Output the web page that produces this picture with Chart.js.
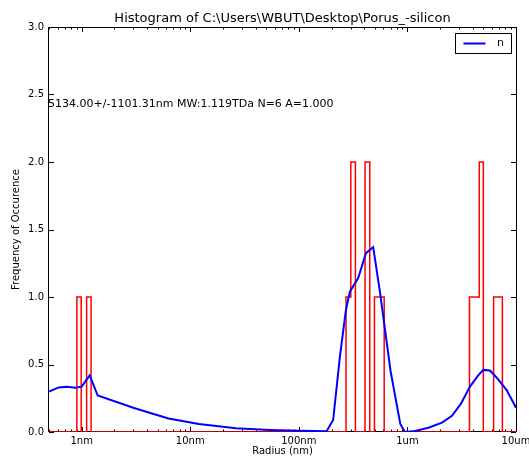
<!DOCTYPE html>
<html>
<head>
<meta charset="utf-8">
<script src="https://cdn.jsdelivr.net/npm/chart.js@4/dist/chart.umd.min.js"></script>
<style>
  html, body { margin: 0; padding: 0; background: #fff; }
</style>
</head>
<body>
<canvas id="histChart" width="529" height="456"></canvas>
<script>
// Histogram (red step outline): bin edges in nm and the count in each bin
const binEdges = [0.5, 0.903, 0.99, 1.11, 1.22, 272, 301, 332, 407, 450, 497, 611, 3730, 4590, 5000, 6220, 7490, 10000];
const binCounts = [0, 1, 0, 1, 0, 1, 2, 0, 2, 0, 1, 0, 1, 2, 0, 1, 0];

// Fitted curve "n" (blue)
const curveRadius = [0.5, 0.614, 0.727, 0.88, 1.0, 1.185, 1.404, 3.08, 6.3, 12.0, 26.3, 54, 102, 180,
  207, 239, 271, 295, 352, 415, 484, 560, 700, 860, 948, 1173, 1562, 2080, 2571, 3112, 3767, 4490,
  4997, 5758, 6680, 8207, 10000];
const curveValue = [0.30, 0.33, 0.335, 0.327, 0.336, 0.42, 0.27, 0.176, 0.10, 0.059, 0.027, 0.015, 0.009, 0.005,
  0.089, 0.56, 0.90, 1.04, 1.14, 1.325, 1.37, 1.03, 0.45, 0.06, 0.0, 0.007, 0.032, 0.069, 0.12, 0.21, 0.336, 0.42,
  0.46, 0.455, 0.40, 0.31, 0.18];

// Axes
const xMajorTicks = [1, 10, 100, 1000, 10000];
const xTickLabels = ["1nm", "10nm", "100nm", "1um", "10um"];
const yTicks = [0, 0.5, 1, 1.5, 2, 2.5, 3];

const titleText = "Histogram of C:\\Users\\WBUT\\Desktop\\Porus_-silicon";
const statsText = "5134.00+/-1101.31nm MW:1.119TDa N=6 A=1.000";
const legendLabel = "n";

// minor ticks on the log axis: 2..9 of each decade
const xMinorTicks = [];
[0.1, 1, 10, 100, 1000].forEach(d => {
  for (let k = 2; k <= 9; k++) {
    const v = d * k;
    if (v >= 0.5 && v <= 10000) xMinorTicks.push(v);
  }
});

// step outline from the bins
const histPoints = [];
binCounts.forEach((c, i) => {
  histPoints.push({ x: binEdges[i], y: c }, { x: binEdges[i + 1], y: c });
});
const curvePoints = curveRadius.map((r, i) => ({ x: r, y: curveValue[i] }));

const fontFamily = "'DejaVu Sans', sans-serif";

// frame with inward ticks on all four sides
const framePlugin = {
  id: "frame",
  beforeDatasetsDraw(chart) {
    const { ctx, chartArea: a, scales: { x, y } } = chart;
    ctx.save();
    ctx.strokeStyle = "#000";
    ctx.lineWidth = 1;
    ctx.beginPath();
    const vTick = (v, len) => {
      const px = Math.round(x.getPixelForValue(v)) + 0.5;
      ctx.moveTo(px, a.bottom); ctx.lineTo(px, a.bottom - len);
      ctx.moveTo(px, a.top); ctx.lineTo(px, a.top + len);
    };
    xMajorTicks.forEach(v => vTick(v, 5));
    xMinorTicks.forEach(v => vTick(v, 2.5));
    yTicks.forEach(v => {
      const py = Math.round(y.getPixelForValue(v)) + 0.5;
      ctx.moveTo(a.left, py); ctx.lineTo(a.left + 5, py);
      ctx.moveTo(a.right, py); ctx.lineTo(a.right - 5, py);
    });
    ctx.stroke();
    ctx.strokeRect(Math.round(a.left) - 0.5, Math.round(a.top) + 0.5,
      Math.round(a.right - a.left) + 1, Math.round(a.bottom - a.top) - 1);
    ctx.restore();
  },
  afterDraw(chart) {
    const { ctx, chartArea: a, scales: { x, y } } = chart;
    ctx.save();
    ctx.fillStyle = "#000";
    // title
    ctx.font = "13px " + fontFamily;
    ctx.textAlign = "center";
    ctx.textBaseline = "alphabetic";
    ctx.fillText(titleText, (a.left + a.right) / 2, 22);
    // stats text, anchored at data coordinates
    ctx.font = "11px " + fontFamily;
    ctx.textAlign = "left";
    ctx.textBaseline = "middle";
    ctx.fillText(statsText, x.getPixelForValue(0.5) - 1, y.getPixelForValue(2.43));
    // legend
    const bw = 56, bh = 20;
    const bx = Math.round(a.right - 5 - bw) + 0.5, by = Math.round(a.top + 6) + 0.5;
    ctx.fillStyle = "#fff";
    ctx.fillRect(bx, by, bw, bh);
    ctx.strokeStyle = "#000";
    ctx.lineWidth = 1;
    ctx.strokeRect(bx, by, bw, bh);
    ctx.strokeStyle = "#0000ff";
    ctx.lineWidth = 2;
    ctx.beginPath();
    ctx.moveTo(bx + 8, by + bh / 2);
    ctx.lineTo(bx + 30, by + bh / 2);
    ctx.stroke();
    ctx.fillStyle = "#000";
    ctx.font = "11px " + fontFamily;
    ctx.textAlign = "center";
    ctx.fillText(legendLabel, bx + 45, by + bh / 2);
    ctx.restore();
  }
};

new Chart(document.getElementById("histChart"), {
  type: "line",
  data: {
    datasets: [
      {
        label: legendLabel,
        data: curvePoints,
        borderColor: "#0000ff",
        borderWidth: 2,
        pointRadius: 0,
        tension: 0
      },
      {
        label: "hist",
        data: histPoints,
        borderColor: "#ff0000",
        borderWidth: 1.5,
        pointRadius: 0,
        tension: 0
      }
    ]
  },
  options: {
    responsive: false,
    animation: false,
    events: [],
    layout: { padding: { top: 27, right: 13, left: 0, bottom: 0 } },
    plugins: { legend: { display: false }, title: { display: false }, tooltip: { enabled: false } },
    scales: {
      x: {
        type: "logarithmic",
        min: 0.5,
        max: 10000,
        grid: { display: false, drawTicks: false },
        border: { display: false },
        afterBuildTicks: s => { s.ticks = xMajorTicks.map(v => ({ value: v })); },
        afterFit: s => { s.height = 24; s.paddingLeft = 0; s.paddingRight = 0; },
        ticks: {
          autoSkip: false,
          maxRotation: 0,
          padding: 3,
          color: "#000",
          font: { family: fontFamily, size: 10 },
          callback: v => xTickLabels[xMajorTicks.indexOf(v)] || ""
        },
        title: {
          display: true,
          text: "Radius (nm)",
          color: "#000",
          font: { family: fontFamily, size: 10, lineHeight: 1 },
          padding: { top: 0, bottom: 0 }
        }
      },
      y: {
        min: 0,
        max: 3,
        grid: { display: false, drawTicks: false },
        border: { display: false },
        afterBuildTicks: s => { s.ticks = yTicks.map(v => ({ value: v })); },
        afterFit: s => { s.width = 49; s.paddingTop = 0; s.paddingBottom = 0; },
        ticks: {
          padding: 5,
          color: "#000",
          font: { family: fontFamily, size: 10 },
          callback: v => v.toFixed(1)
        },
        title: {
          display: true,
          text: "Frequency of Occurence",
          color: "#000",
          font: { family: fontFamily, size: 10 },
          padding: { top: 10, bottom: 0 }
        }
      }
    }
  },
  plugins: [framePlugin]
});
</script>
</body>
</html>
